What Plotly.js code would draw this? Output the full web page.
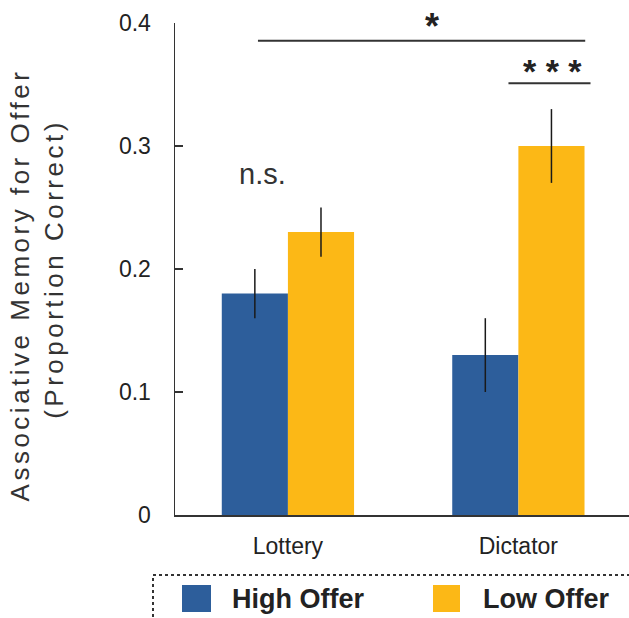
<!DOCTYPE html>
<html><head><meta charset="utf-8">
<script src="https://cdn.plot.ly/plotly-3.0.1.min.js"></script>
<style>
html,body{margin:0;padding:0;background:#fff;}
#chart{width:629px;height:618px;}
.ytitle{letter-spacing:3.5px;}
</style></head>
<body><div id="chart"></div>
<script>
// ---- data ----
const categories = ['Lottery', 'Dictator'];
const seriesNames = ['High Offer', 'Low Offer'];
const highOffer = [0.18, 0.13];
const lowOffer = [0.23, 0.30];
const highOfferErr = [0.02, 0.03];
const lowOfferErr = [0.02, 0.03];
const yTickVals = [0, 0.1, 0.2, 0.3, 0.4];
const yTickText = ['0', '0.1', '0.2', '0.3', '0.4'];
const sigLabels = ['n.s.', '*', '* * *'];
const yTitleLines = ['Associative Memory for Offer', '(Proportion Correct)'];

// ---- styling / layout ----
const colors = ['#2d5e9b', '#fcb816'];
const FONT = 'Arial, "Liberation Sans", sans-serif';
const W = 629, H = 618, ML = 175, MR = 0, MT = 23, MB = 103;
const PW = W - ML - MR, PH = H - MT - MB;
const px = p => (p - ML) / PW;          // pixel x -> paper x
const py = p => (H - MB - p) / PH;      // pixel y -> paper y

const traces = [
  {type: 'bar', name: seriesNames[0], x: categories, y: highOffer,
   marker: {color: colors[0]},
   error_y: {type: 'data', array: highOfferErr, visible: true, color: '#1a1a1a', thickness: 1.5, width: 0}},
  {type: 'bar', name: seriesNames[1], x: categories, y: lowOffer,
   marker: {color: colors[1]},
   error_y: {type: 'data', array: lowOfferErr, visible: true, color: '#1a1a1a', thickness: 1.5, width: 0}}
];

const nbsp = '\u00A0';
const pad = nbsp + nbsp + nbsp;
const layout = {
  width: W, height: H,
  margin: {l: ML, r: MR, t: MT, b: MB, pad: 0},
  paper_bgcolor: '#fff', plot_bgcolor: '#fff',
  showlegend: false,
  barmode: 'group', bargap: 0.426, bargroupgap: 0,
  font: {family: FONT, color: '#222'},
  xaxis: {
    type: 'category', range: [-0.49, 1.48],
    showline: true, linecolor: '#333', linewidth: 1.5,
    ticks: '', showgrid: false, zeroline: false,
    tickfont: {size: 23, color: '#222'}, ticklabelstandoff: 10
  },
  yaxis: {
    range: [0, 0.4], tickvals: yTickVals, ticktext: yTickText,
    showline: true, linecolor: '#333', linewidth: 1.5,
    ticks: 'inside', ticklen: 8, tickwidth: 1.5, tickcolor: '#333',
    showgrid: false, zeroline: false,
    tickfont: {size: 23, color: '#222'}, ticklabelstandoff: 18,
    title: {text: yTitleLines[0] + pad + '<br>' + yTitleLines[1] + pad,
            font: {size: 26, color: '#333'}, standoff: 48}
  },
  shapes: [
    // significance brackets
    {type: 'line', xref: 'x', yref: 'y', x0: -0.13, x1: 1.29, y0: 0.3855, y1: 0.3855, line: {color: '#333', width: 2}},
    {type: 'line', xref: 'x', yref: 'y', x0: 0.957, x1: 1.313, y0: 0.351, y1: 0.351, line: {color: '#333', width: 2}},
    // legend frame (dotted)
    {type: 'rect', xref: 'paper', yref: 'paper', x0: px(153), x1: px(640), y0: py(575), y1: py(640),
     line: {color: '#333', width: 2, dash: 'dot'}, fillcolor: 'rgba(0,0,0,0)'},
    // legend swatches
    {type: 'rect', xref: 'paper', yref: 'paper', x0: px(182), x1: px(211), y0: py(585), y1: py(612),
     line: {width: 0}, fillcolor: colors[0]},
    {type: 'rect', xref: 'paper', yref: 'paper', x0: px(433), x1: px(460), y0: py(585), y1: py(612),
     line: {width: 0}, fillcolor: colors[1]}
  ],
  annotations: [
    {xref: 'x', yref: 'y', x: -0.11, y: 0.277, text: sigLabels[0], showarrow: false,
     font: {size: 29, color: '#333'}},
    {xref: 'x', yref: 'y', x: 0.626, y: 0.3855, text: sigLabels[1], showarrow: false, yanchor: 'bottom', yshift: -8,
     font: {size: 36, color: '#222', weight: 'bold'}},
    {xref: 'x', yref: 'y', x: 1.148, y: 0.351, text: sigLabels[2], showarrow: false, yanchor: 'bottom', yshift: -9,
     font: {size: 34, color: '#222', weight: 'bold'}},
    {xref: 'paper', yref: 'paper', x: px(230), y: py(599), xanchor: 'left', yanchor: 'middle', text: seriesNames[0], showarrow: false,
     font: {size: 27, color: '#222', weight: 'bold'}},
    {xref: 'paper', yref: 'paper', x: px(481), y: py(599), xanchor: 'left', yanchor: 'middle', text: seriesNames[1], showarrow: false,
     font: {size: 27, color: '#222', weight: 'bold'}}
  ]
};

Plotly.newPlot('chart', traces, layout, {displayModeBar: false, staticPlot: true});
</script>
</body></html>
